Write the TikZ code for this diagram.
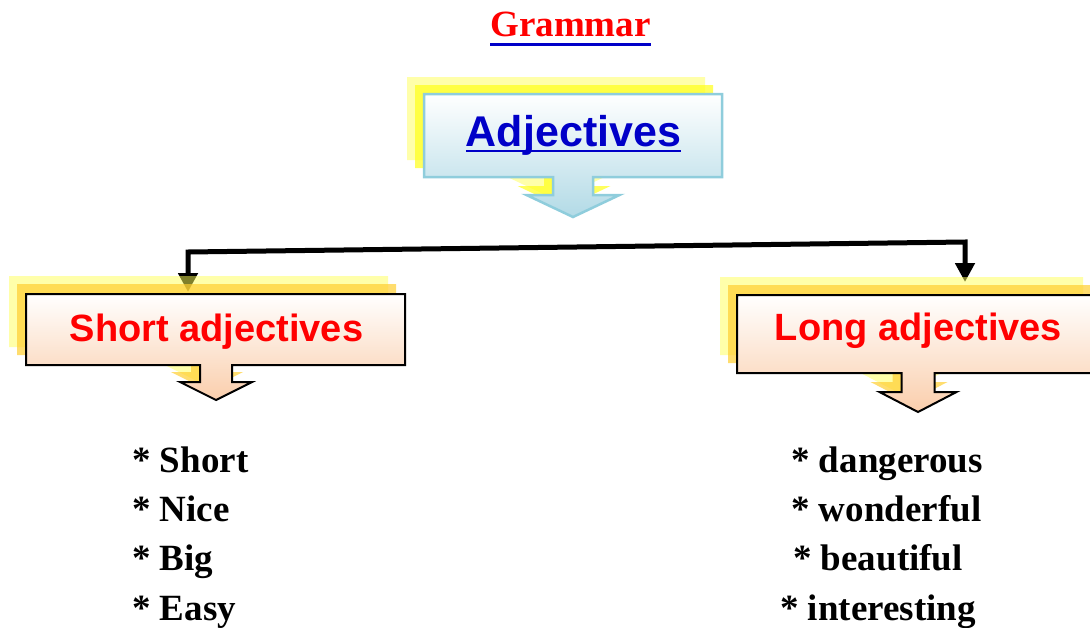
\documentclass[tikz,border=0pt]{standalone}
\usepackage{fontspec}
\setmainfont{Liberation Serif}
\newfontfamily\arialf{Liberation Sans}
\usetikzlibrary{arrows.meta}
\definecolor{adjblue}{RGB}{0,0,200}
\definecolor{adjborder}{RGB}{143,205,220}
\definecolor{adjbottom}{RGB}{178,218,230}
\definecolor{peach}{RGB}{250,206,172}
\definecolor{paleyel}{RGB}{255,255,85}
\definecolor{darkyel}{RGB}{255,206,49}
\definecolor{brightyel}{RGB}{255,255,24}
\newcommand\mycallout[9]{(#1,#3) -- (#2,#3) -- (#2,#4) -- ({#5+#6},#4) -- ({#5+#6},#7) -- ({#5+#8},#7) -- (#5,#9) -- ({#5-#8},#7) -- ({#5-#6},#7) -- ({#5-#6},#4) -- (#1,#4) -- cycle}
\tikzset{
  paleshadow/.style={fill=paleyel, fill opacity=0.5, draw=none},
  darkshadow/.style={fill=darkyel, fill opacity=0.7, draw=none},
  brightshadow/.style={fill=brightyel, fill opacity=0.7, draw=none},
  bluebox/.style={draw=adjborder, line width=2.5pt, top color=white, bottom color=adjbottom},
  redbox/.style={draw=black, line width=2pt, top color=white, bottom color=peach},
  boxtext/.style={font=\arialf\bfseries\fontsize{38}{42}\selectfont, text=red, inner sep=0pt, anchor=base},
  itemtext/.style={font=\bfseries\fontsize{37}{40}\selectfont, text=black, inner sep=0pt, anchor=base west},
  connector/.style={line width=5pt, {Triangle[length=19pt,width=19pt]}-{Triangle[length=19pt,width=19pt]}}
}
\begin{document}
\begin{tikzpicture}[x=1pt,y=-1pt]
\useasboundingbox (0,0) rectangle (1090,627);
\clip (0,0) rectangle (1090,627);
% title
\node[font=\bfseries\fontsize{37}{40}\selectfont, text=red, inner sep=0pt, anchor=base] (gram) at (570.5,36) {Grammar};
\draw[adjblue, line width=3pt] ([yshift=-8pt]gram.base west) -- ([yshift=-8pt]gram.base east);
% connector
\coordinate (tl) at (188,292);
\coordinate (jl) at (188,252);
\coordinate (jr) at (965,242);
\coordinate (tr) at (965,282);
\draw[connector] (tl) -- (jl) -- (jr) -- (tr);
% shadows
\begin{scope}[shift={(-17,-17)}]
\path[paleshadow] \mycallout{424}{722}{94}{177}{573}{20}{195}{46.5}{217};
\end{scope}
\begin{scope}[shift={(-9,-9)}]
\path[brightshadow] \mycallout{424}{722}{94}{177}{573}{20}{195}{46.5}{217};
\end{scope}
\begin{scope}[shift={(-17,-18)}]
\path[paleshadow] \mycallout{26}{405}{294}{365}{216}{16}{382}{36}{400};
\path[paleshadow] \mycallout{737}{1100}{295}{373}{918}{16.5}{392}{38.5}{412};
\end{scope}
\begin{scope}[shift={(-9,-10)}]
\path[darkshadow] \mycallout{26}{405}{294}{365}{216}{16}{382}{36}{400};
\path[darkshadow] \mycallout{737}{1100}{295}{373}{918}{16.5}{392}{38.5}{412};
\end{scope}
% callouts
\path[bluebox] \mycallout{424}{722}{94}{177}{573}{20}{195}{46.5}{217};
\path[redbox] \mycallout{26}{405}{294}{365}{216}{16}{382}{36}{400};
\path[redbox] \mycallout{737}{1100}{295}{373}{918}{16.5}{392}{38.5}{412};
% box texts
\node[boxtext, text=adjblue, font=\arialf\bfseries\fontsize{43}{46}\selectfont] (adj) at (573.5,146) {Adjectives};
\draw[adjblue, line width=2.5pt] ([yshift=-5pt]adj.base west) -- ([yshift=-5pt]adj.base east);
\node[boxtext] (short) at (216.5,341) {Short adjectives};
\node[boxtext] (long) at (918.5,340) {Long adjectives};
% lists
\node[itemtext] (s1) at (132,472) {* Short};
\node[itemtext] (s2) at (132,521) {* Nice};
\node[itemtext] (s3) at (132,570) {* Big};
\node[itemtext] (s4) at (132,620) {* Easy};
\node[itemtext] (l1) at (791,472) {* dangerous};
\node[itemtext] (l2) at (791,521) {* wonderful};
\node[itemtext] (l3) at (793,570) {* beautiful};
\node[itemtext] (l4) at (780,620) {* interesting};
\end{tikzpicture}
\end{document}
